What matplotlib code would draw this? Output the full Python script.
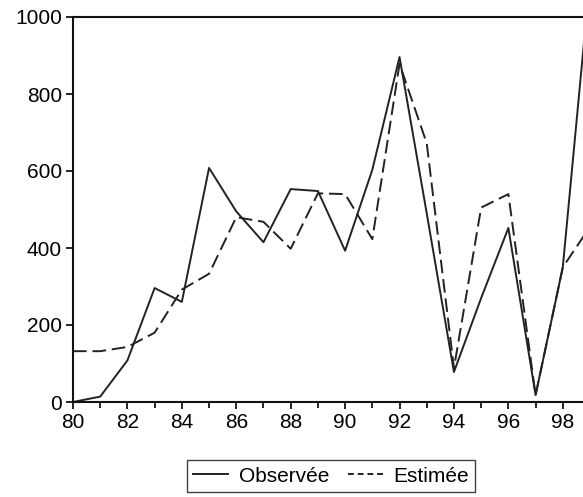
import numpy as np
import matplotlib
matplotlib.use('Agg')
import matplotlib.pyplot as plt
from matplotlib.ticker import MultipleLocator
from matplotlib.lines import Line2D

plt.rcParams['font.family'] = ['Liberation Sans', 'DejaVu Sans']

# data
years = [80, 81, 82, 83, 84, 85, 86, 87, 88, 89, 90, 91, 92, 93, 94, 95, 96, 97, 98, 99]
observee = [0, 14, 108, 296, 260, 608, 495, 415, 553, 548, 393, 603, 896, 490, 78, 270, 452, 18, 350, 1100]
estimee = [132, 132, 143, 180, 292, 333, 480, 468, 398, 542, 540, 423, 878, 672, 88, 505, 540, 18, 350, 455]

fig = plt.figure(figsize=(5.83, 4.97), dpi=100)
ax = fig.add_axes([73 / 583, 95 / 497, 517 / 583, 385 / 497])

ax.plot(years, observee, color='#222222', lw=1.4)
ax.plot(years, estimee, color='#222222', lw=1.4, dashes=(7, 3))

ax.set_xlim(80, 99)
ax.set_ylim(0, 1000)
ax.xaxis.set_major_locator(MultipleLocator(2))
ax.xaxis.set_minor_locator(MultipleLocator(1))
ax.yaxis.set_major_locator(MultipleLocator(200))
ax.tick_params(axis='both', which='major', direction='out', length=5, width=1.2, labelsize=15, pad=3)
ax.tick_params(axis='x', which='minor', direction='out', length=4, width=1.2)
for s in ax.spines.values():
    s.set_linewidth(1.5)
    s.set_color('#111111')

handles = [Line2D([], [], color='#222222', lw=1.4),
           Line2D([], [], color='#222222', lw=1.4, dashes=(3, 2))]
fig.legend(handles, ['Observée', 'Estimée'], loc='center',
           bbox_to_anchor=(331 / 583, 1 - 476 / 497), ncol=2, fontsize=15,
           frameon=True, fancybox=False, edgecolor='#111111', handlelength=1.7,
           columnspacing=0.9, handletextpad=0.5, borderpad=0.3)

fig.savefig('out.png', dpi=100)
